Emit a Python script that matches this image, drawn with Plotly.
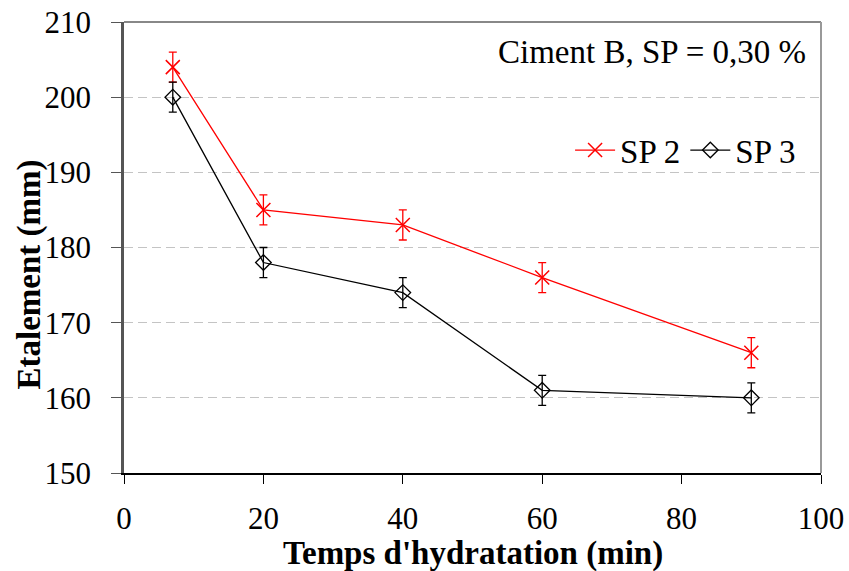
import plotly.graph_objects as go

time_min = [7, 20, 40, 60, 90]
sp2 = [204, 185, 183, 176, 166]
sp3 = [200, 178, 174, 161, 160]
sp2_err = [2, 2, 2, 2, 2]
sp3_err = [2, 2, 2, 2, 2]

FONT = "Liberation Serif"
TXT = 33
TICK = 31

fig = go.Figure()
fig.add_trace(go.Scatter(
    x=time_min, y=sp2, name="SP 2", mode="lines+markers",
    line=dict(color="#ff0000", width=1.3),
    marker=dict(symbol="x-thin", size=14, line=dict(color="#ff0000", width=1.5), color="#ff0000"),
    error_y=dict(type="data", array=sp2_err, color="#ff0000", thickness=1.3, width=4),
))
fig.add_trace(go.Scatter(
    x=time_min, y=sp3, name="SP 3", mode="lines+markers",
    line=dict(color="#000000", width=1.3),
    marker=dict(symbol="diamond-open", size=12, line=dict(color="#000000", width=1.3), color="#000000"),
    error_y=dict(type="data", array=sp3_err, color="#000000", thickness=1.3, width=4),
))

fig.update_layout(
    width=849, height=571,
    margin=dict(l=124, r=28, t=22, b=98, autoexpand=False),
    paper_bgcolor="white", plot_bgcolor="white",
    font=dict(family=FONT, size=TXT, color="black"),
    showlegend=True,
    legend=dict(orientation="h", x=0.64, xanchor="left", y=0.716, yanchor="middle",
                bgcolor="rgba(0,0,0,0)", font=dict(family=FONT, size=TXT), itemwidth=40,
                tracegroupgap=0),
    annotations=[
        dict(text="Ciment B, SP = 0,30 %", xref="paper", yref="paper",
             x=0.981, y=0.933, xanchor="right", yanchor="middle",
             showarrow=False, font=dict(family=FONT, size=TXT)),
        dict(text="<b>Temps d'hydratation (min)</b>", xref="paper", yref="paper",
             x=0.5, y=-0.178, xanchor="center", yanchor="middle",
             showarrow=False, font=dict(family=FONT, size=TXT)),
        dict(text="<b>Etalement (mm)</b>", xref="paper", yref="paper",
             x=-0.135, y=0.44, xanchor="center", yanchor="middle", textangle=-90,
             showarrow=False, font=dict(family=FONT, size=TXT)),
    ],
    shapes=[
        dict(type="line", xref="paper", yref="paper", x0=0, x1=1, y0=1, y1=1,
             line=dict(color="#888888", width=2)),
        dict(type="line", xref="paper", yref="paper", x0=1, x1=1, y0=0, y1=1,
             line=dict(color="#999999", width=2)),
    ],
)
fig.update_xaxes(
    range=[0, 100], tickvals=[0, 20, 40, 60, 80, 100],
    showline=True, linecolor="black", linewidth=1.5,
    ticks="outside", ticklen=9, tickcolor="black", tickwidth=1,
    showgrid=False, zeroline=False, automargin=False,
    ticklabelstandoff=8, ticklabeloverflow="allow",
    tickfont=dict(family=FONT, size=TICK),
)
fig.update_yaxes(
    range=[150, 210], tickvals=[150, 160, 170, 180, 190, 200, 210],
    showline=True, linecolor="#555555", linewidth=2.5,
    ticks="outside", ticklen=10, tickcolor="#555555", tickwidth=1,
    showgrid=True, gridcolor="#c4c4c4", griddash="9px,5px", gridwidth=1,
    zeroline=False, automargin=False,
    ticklabelstandoff=14, ticklabeloverflow="allow",
    tickfont=dict(family=FONT, size=TICK),
)

fig.write_html("out.html", config={"displayModeBar": False},
               post_script="document.body.style.margin='0';")
